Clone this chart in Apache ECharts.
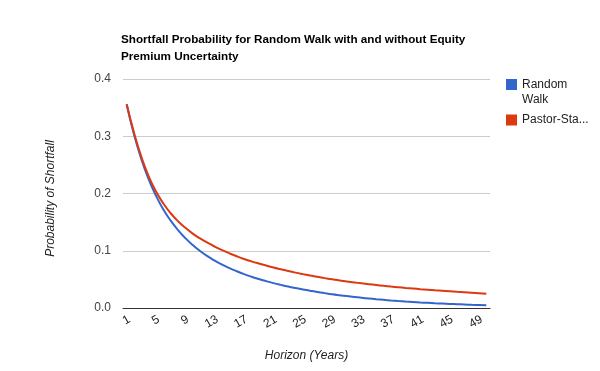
<!DOCTYPE html>
<html>
<head>
<meta charset="utf-8">
<script src="https://cdn.jsdelivr.net/npm/echarts@6/dist/echarts.min.js"></script>
<style>html,body{margin:0;padding:0;background:#fff}#c{width:600px;height:371px}</style>
</head>
<body>
<div id="c"></div>
<script>
var horizons = [];
for (var i = 1; i <= 50; i++) horizons.push(String(i));

var randomWalk = [0.356,0.303,0.260,0.2245,0.196,0.172,0.1525,0.1360,0.1220,0.1100,
  0.0995,0.0905,0.0827,0.0758,0.0697,0.0642,0.0592,0.0547,0.0506,0.0469,
  0.0435,0.0404,0.0375,0.0349,0.0325,0.0302,0.0280,0.0260,0.0241,0.0224,
  0.0208,0.0193,0.0179,0.0166,0.0154,0.0143,0.0132,0.0122,0.0113,0.0105,
  0.0097,0.0090,0.0083,0.0077,0.0071,0.0066,0.0061,0.0056,0.0052,0.0048];

var pastorStambaugh = [0.356,0.306,0.264,0.230,0.2035,0.1825,0.1655,0.1515,0.1400,0.1300,
  0.1215,0.1140,0.1073,0.1011,0.0955,0.0903,0.0856,0.0815,0.0777,0.0741,
  0.0707,0.0676,0.0646,0.0618,0.0592,0.0567,0.0544,0.0522,0.0501,0.0482,
  0.0464,0.0447,0.0431,0.0416,0.0402,0.0388,0.0375,0.0363,0.0351,0.0340,
  0.0329,0.0319,0.0309,0.0300,0.0291,0.0282,0.0274,0.0266,0.0258,0.0250];

var seriesNames = ['Random Walk', 'Pastor-Stambaugh'];
var legendLabels = {'Random Walk': '\u00a0\nRandom\nWalk', 'Pastor-Stambaugh': 'Pastor-Sta...'};
var yTicks = [0, 0.1, 0.2, 0.3, 0.4];

var FONT = 'Arial, "Liberation Sans", sans-serif';
var chart = echarts.init(document.getElementById('c'), null, {renderer: 'canvas'});
chart.setOption({
  animation: false,
  color: ['#3366cc', '#dc3912'],
  title: {
    text: 'Shortfall Probability for Random Walk with and without Equity\nPremium Uncertainty',
    left: 121, top: 31, padding: 0,
    textStyle: {fontFamily: FONT, fontSize: 11.7, fontWeight: 'bold', color: '#000', lineHeight: 17}
  },
  legend: [{
    data: [seriesNames[0]], orient: 'vertical', left: 506, top: 62, padding: 0,
    itemWidth: 11, itemHeight: 11, icon: 'rect',
    formatter: function (n) { return legendLabels[n]; },
    textStyle: {fontFamily: FONT, fontSize: 12, color: '#222', lineHeight: 15}
  }, {
    data: [seriesNames[1]], orient: 'vertical', left: 506, top: 114, padding: 0,
    itemWidth: 11, itemHeight: 11, icon: 'rect',
    formatter: function (n) { return legendLabels[n]; },
    textStyle: {fontFamily: FONT, fontSize: 12, color: '#222'}
  }],
  grid: {left: 123, right: 110, top: 79, bottom: 63, containLabel: false},
  xAxis: {
    type: 'category', data: horizons, boundaryGap: true,
    name: 'Horizon (Years)', nameLocation: 'middle', nameGap: 42,
    nameTextStyle: {fontFamily: FONT, fontSize: 12, fontStyle: 'italic', color: '#222'},
    axisLine: {lineStyle: {color: '#333', width: 1}},
    axisTick: {show: false},
    axisLabel: {interval: 3, rotate: 30, margin: 12, padding: [0, -3, 0, 0],
      fontFamily: FONT, fontSize: 12, color: '#222'},
    splitLine: {show: false}
  },
  yAxis: {
    type: 'value', min: yTicks[0], max: yTicks[yTicks.length - 1], interval: 0.1,
    name: 'Probability of Shortfall', nameLocation: 'middle', nameGap: 66,
    nameTextStyle: {fontFamily: FONT, fontSize: 12, fontStyle: 'italic', color: '#222', padding: [0, 10, 0, 0]},
    axisLine: {show: false}, axisTick: {show: false},
    axisLabel: {margin: 12, fontFamily: FONT, fontSize: 12, color: '#444',
      formatter: function (v) { return v.toFixed(1); }},
    splitLine: {lineStyle: {color: '#cccccc', width: 1}}
  },
  series: [{
    name: seriesNames[0], type: 'line', data: randomWalk, showSymbol: false, symbol: 'none',
    smooth: true, lineStyle: {width: 2}
  }, {
    name: seriesNames[1], type: 'line', data: pastorStambaugh, showSymbol: false, symbol: 'none',
    smooth: true, lineStyle: {width: 2}
  }]
});
</script>
</body>
</html>
